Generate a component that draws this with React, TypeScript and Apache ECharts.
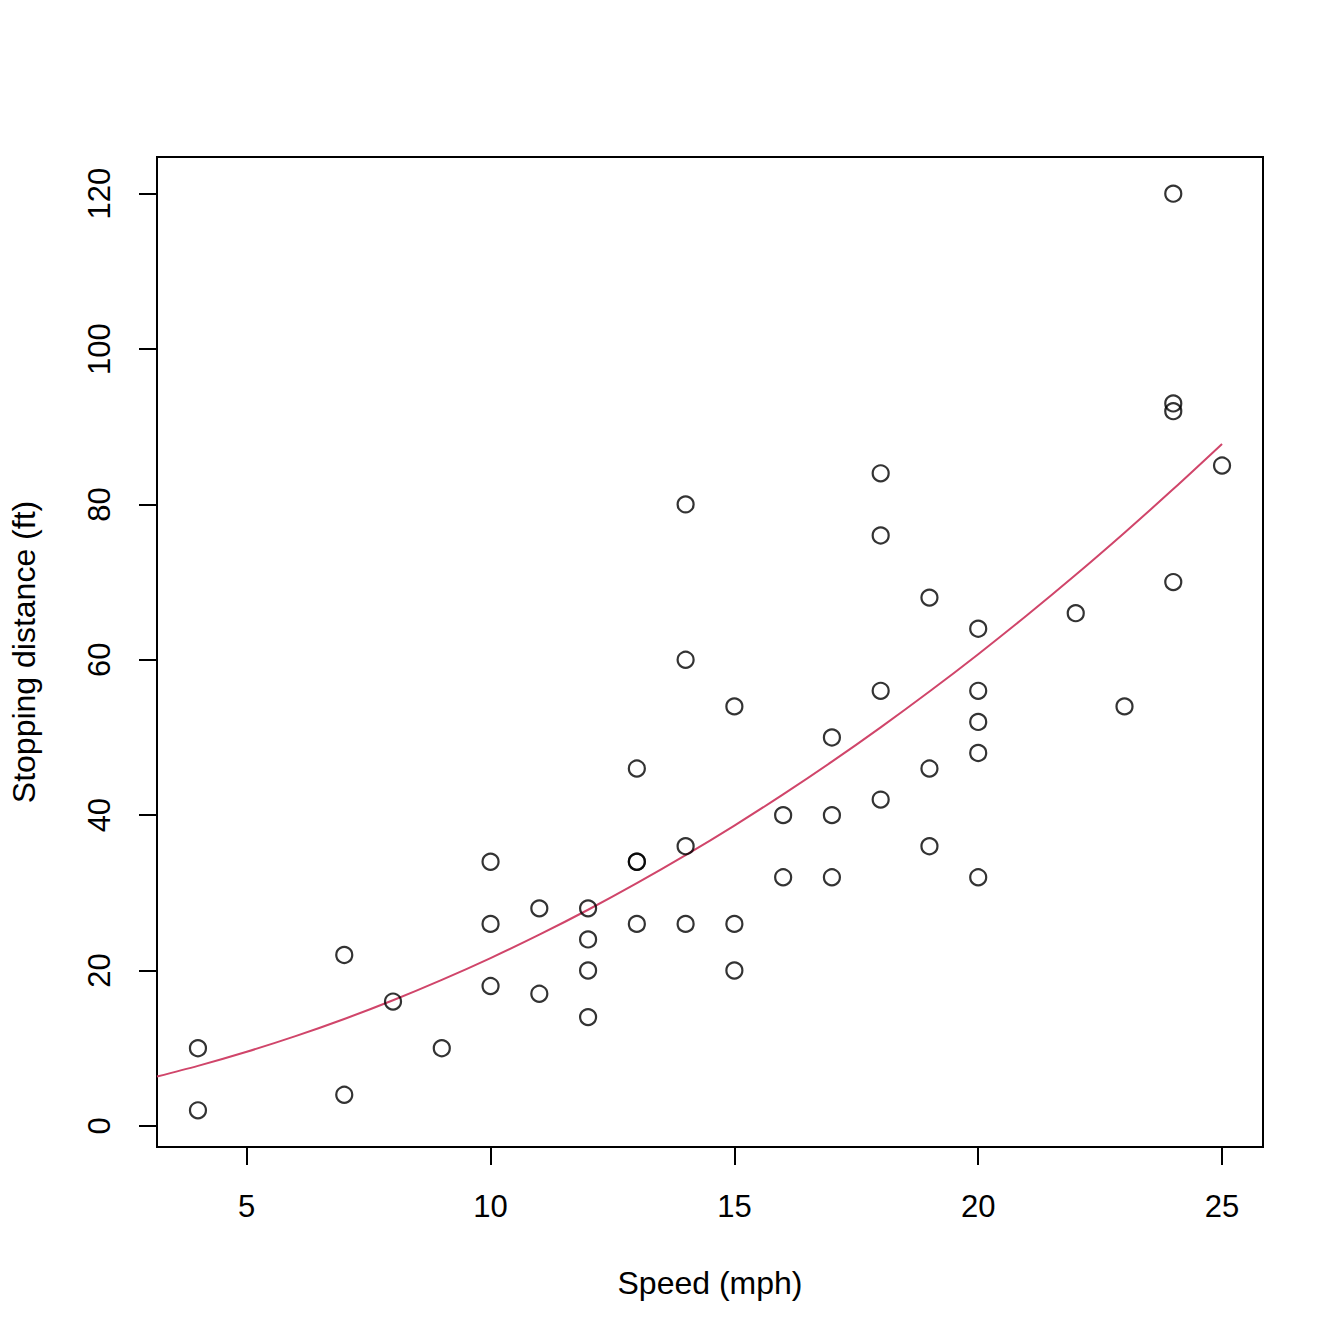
import * as echarts from 'echarts';
import { useEffect, useRef } from 'react';

const speed = [
  4, 4, 7, 7, 8, 9, 10, 10, 10, 11, 11, 12, 12, 12, 12, 13, 13, 13, 13, 14, 14, 14, 14, 15, 15, 15,
  16, 16, 17, 17, 17, 18, 18, 18, 18, 19, 19, 19, 20, 20, 20, 20, 20, 22, 23, 24, 24, 24, 24, 25,
];
const dist = [
  2, 10, 4, 22, 16, 10, 18, 26, 34, 17, 28, 14, 20, 24, 28, 26, 34, 34, 46, 26, 36, 60, 80, 20, 26, 54,
  32, 40, 32, 40, 50, 42, 56, 76, 84, 36, 46, 68, 32, 48, 52, 56, 64, 66, 54, 70, 92, 93, 120, 85,
];

// fitted curve
const curveX = [3.16, 4, 5, 6, 7, 8, 9, 10, 11, 12, 13, 14, 15, 16, 17, 18, 19, 20, 21, 22, 23, 24, 25];
const curveY = [
  6.35, 7.72, 9.54, 11.55, 13.76, 16.17, 18.79, 21.6, 24.61, 27.82, 31.24, 34.85, 38.66, 42.67, 46.88,
  51.3, 55.91, 60.72, 65.73, 70.94, 76.36, 81.97, 87.78,
];

const xTicks = [5, 10, 15, 20, 25];
const yTicks = [0, 20, 40, 60, 80, 100, 120];

const FONT = '"Liberation Sans", Arial, sans-serif';

function App() {
  const chartRef = useRef<HTMLDivElement>(null);

  useEffect(() => {
    const chart = echarts.init(chartRef.current, null, { renderer: 'svg' });

    const tickStyle = { show: true, inside: false, length: 18, lineStyle: { color: '#000', width: 2 } };

    const option = {
      animation: false,
      backgroundColor: '#fff',
      grid: {
        left: 157,
        top: 157,
        width: 1106,
        height: 990,
        show: true,
        borderColor: '#000',
        borderWidth: 2,
        backgroundColor: 'transparent',
      },
      xAxis: {
        type: 'value',
        min: 3.16,
        max: 25.84,
        name: 'Speed (mph)',
        nameLocation: 'middle',
        nameGap: 120,
        nameTextStyle: { fontFamily: FONT, fontSize: 32, color: '#000' },
        axisLine: { show: false, onZero: false },
        axisTick: { ...tickStyle, customValues: xTicks },
        axisLabel: { customValues: xTicks, fontFamily: FONT, fontSize: 31, color: '#000', margin: 44 },
        splitLine: { show: false },
      },
      yAxis: {
        type: 'value',
        min: -2.72,
        max: 124.72,
        name: 'Stopping distance (ft)',
        nameLocation: 'middle',
        nameGap: 117,
        nameTextStyle: { fontFamily: FONT, fontSize: 32, color: '#000' },
        axisLine: { show: false, onZero: false },
        axisTick: { ...tickStyle, customValues: yTicks },
        axisLabel: {
          customValues: yTicks,
          rotate: 90,
          fontFamily: FONT,
          fontSize: 31,
          color: '#000',
          margin: 42,
        },
        splitLine: { show: false },
      },
      series: [
        {
          type: 'scatter',
          data: speed.map((s, i) => [s, dist[i]]),
          symbol: 'circle',
          symbolSize: 16,
          itemStyle: { color: 'transparent', borderColor: '#000', borderWidth: 2.2 },
          z: 3,
        },
        {
          type: 'line',
          data: curveX.map((x, i) => [x, curveY[i]]),
          showSymbol: false,
          smooth: 0.3,
          lineStyle: { color: '#D0456A', width: 2 },
          z: 2,
        },
      ],
    };

    chart.setOption(option);

    return () => {
      chart.dispose();
    };
  }, []);

  return (
    <div
      ref={chartRef}
      style={{ position: 'absolute', left: 0, top: 0, width: '1344px', height: '1344px' }}
    ></div>
  );
}

export default App;
